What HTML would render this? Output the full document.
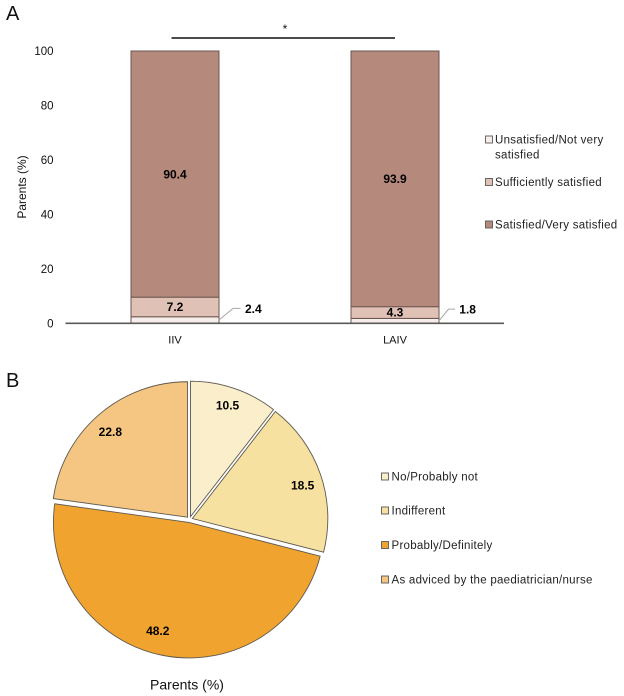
<!DOCTYPE html>
<html lang="en">
<head>
<meta charset="utf-8">
<title>Parents satisfaction charts</title>
<style>
html,body{margin:0;padding:0;background:#fff;}
body{width:624px;height:696px;overflow:hidden;}
svg{display:block;font-family:"Liberation Sans",sans-serif;}
</style>
</head>
<body>
<svg id="fig" xmlns="http://www.w3.org/2000/svg" width="624" height="696" viewBox="0 0 624 696">
  <rect x="0" y="0" width="624" height="696" fill="#fff"/>
  <text x="6" y="20" font-size="20" fill="#111">A</text>
  <text x="6" y="387" font-size="20" fill="#111">B</text>
  <text transform="translate(26,187) rotate(-90)" text-anchor="middle" font-size="12" fill="#111">Parents (%)</text>
  <line x1="171.500" y1="38" x2="395" y2="38" stroke="#111" stroke-width="1.6"/>
  <text x="285" y="33" text-anchor="middle" font-size="12" fill="#111">*</text>
  <text x="187" y="689.500" text-anchor="middle" font-size="14" fill="#111">Parents (%)</text>
  <g id="bars"></g>
  <g id="pie"></g>
  <g id="legendA"></g>
  <g id="legendB"></g>
</svg>
<script>
// Panel A data
const barCategories = ['IIV', 'LAIV'];
const unsatisfiedValues = [2.4, 1.8];
const sufficientValues = [7.2, 4.3];
const satisfiedValues = [90.4, 93.9];
const yTicks = [0, 20, 40, 60, 80, 100];
// Panel B data
const pieCategories = ['No/Probably not', 'Indifferent', 'Probably/Definitely', 'As adviced by the paediatrician/nurse'];
const pieValues = [10.5, 18.5, 48.2, 22.8];

const NS = 'http://www.w3.org/2000/svg';
function make(tag, attrs, parent, txt) {
  const el = document.createElementNS(NS, tag);
  for (const k in attrs) el.setAttribute(k, attrs[k]);
  if (txt !== undefined) el.textContent = txt;
  parent.appendChild(el);
  return el;
}

// Axis functions
const yScale = v => 323.3 - v * 2.723;
const barCenter = i => 175 + i * 220;
const barWidth = 88;

const barsG = document.getElementById('bars');
const barFills = ['#f7eeec', '#e0c1b5', '#b5897b'];
const barSeries = [unsatisfiedValues, sufficientValues, satisfiedValues];

yTicks.forEach(t => {
  const lab = make('text', {x: 53.500, y: yScale(t) + 4, 'text-anchor': 'end', 'font-size': 11.500, fill: '#111'}, barsG, String(t));
  
  
});

barCategories.forEach((cat, i) => {
  const cx = barCenter(i);
  const left = cx - barWidth / 2;
  let base = 0;
  barSeries.forEach((series, s) => {
    const v = series[i];
    const top = base + v;
    const rect = make('rect', {
      x: left, y: yScale(top), width: barWidth, height: yScale(base) - yScale(top),
      fill: barFills[s], stroke: '#6b5650', 'stroke-width': 1
    }, barsG);
    
    
    if (s > 0) {
      const lab = make('text', {
        x: cx, y: yScale(base + v / 2) + 4.200, 'text-anchor': 'middle',
        'font-size': 12, 'font-weight': 'bold', fill: '#000'
      }, barsG, v.toFixed(1));
      
      
    } else {
      const right = cx + barWidth / 2;
      const yv = yScale(v / 2);
      const elbowDx = i === 0 ? 14 : 9.500;
      const endDx = i === 0 ? 21.500 : 16;
      const textDx = i === 0 ? 26 : 20.300;
      const elbowY = yv - 11.700;
      const leader = make('polyline', {
        points: `${right},${yv} ${right + elbowDx},${elbowY} ${right + endDx},${elbowY}`,
        fill: 'none', stroke: '#a6a6a6', 'stroke-width': 1
      }, barsG);
      
      
      const lab = make('text', {
        x: right + textDx, y: elbowY + 4.500, 'font-size': 12, 'font-weight': 'bold', fill: '#000'
      }, barsG, v.toFixed(1));
      
      
    }
    base = top;
  });
  const catLab = make('text', {x: cx, y: 343.300, 'text-anchor': 'middle', 'font-size': 11, fill: '#111'}, barsG, cat);
  
  
});

const axisLine = make('line', {x1: 65.500, y1: yScale(0), x2: 504, y2: yScale(0), stroke: '#595959', 'stroke-width': 1.700}, barsG);



// Pie
const pieG = document.getElementById('pie');
const pieFills = ['#fbeecb', '#f7e1a1', '#f0a32e', '#f5c681'];
const pcx = 189.500, pcy = 519.500, pr = 135.500, explode = 3;
const total = pieValues.reduce((a, b) => a + b, 0);
const angleOf = v => v / total * Math.PI * 2;
let cum = 0;
pieValues.forEach((v, i) => {
  const a0 = angleOf(cum);
  const a1 = angleOf(cum + v);
  const mid = (a0 + a1) / 2;
  const ox = pcx + explode * Math.sin(mid);
  const oy = pcy - explode * Math.cos(mid);
  const x0 = ox + pr * Math.sin(a0), y0 = oy - pr * Math.cos(a0);
  const x1 = ox + pr * Math.sin(a1), y1 = oy - pr * Math.cos(a1);
  const large = (a1 - a0) > Math.PI ? 1 : 0;
  const slice = make('path', {
    d: `M${ox.toFixed(2)},${oy.toFixed(2)} L${x0.toFixed(2)},${y0.toFixed(2)} A${pr},${pr} 0 ${large} 1 ${x1.toFixed(2)},${y1.toFixed(2)} Z`,
    fill: pieFills[i], stroke: '#5f5a50', 'stroke-width': 0.900
  }, pieG);
  
  
  cum += v;
});
cum = 0;
pieValues.forEach((v, i) => {
  const mid = angleOf(cum + v / 2);
  const lr = 117.500;
  const nudgeX = i === 1 ? 2 : i === 2 ? -9 : i === 3 ? -2 : 0;
  const nudgeY = i === 0 ? -3 : i === 1 ? 4 : i === 2 ? -4 : i === 3 ? 1 : 0;
  const lab = make('text', {
    x: pcx + lr * Math.sin(mid) + nudgeX, y: pcy - lr * Math.cos(mid) + 4 + nudgeY, 'text-anchor': 'middle',
    'font-size': 12, 'font-weight': 'bold', fill: '#000'
  }, pieG, v.toFixed(1));
  
  
  cum += v;
});

// Legends
const legendA = document.getElementById('legendA');
const legendAEntries = [
  {lines: ['Unsatisfied/Not very', 'satisfied'], y: 139.500},
  {lines: ['Sufficiently satisfied'], y: 182},
  {lines: ['Satisfied/Very satisfied'], y: 224.500}
];
legendAEntries.forEach((e, i) => {
  const sw = make('rect', {x: 485.500, y: e.y - 3.500, width: 7, height: 7, fill: barFills[i], stroke: '#595959', 'stroke-width': 0.900}, legendA);
  
  
  e.lines.forEach((ln, j) => {
    const t = make('text', {x: 495, y: e.y + 4 + j * 15, 'font-size': 11.500, 'letter-spacing': 0.280, fill: '#222'}, legendA, ln);
    
    
  });
});

const legendB = document.getElementById('legendB');
const legendBY = [476.500, 510.500, 545, 579.500];
pieCategories.forEach((c, i) => {
  const sw = make('rect', {x: 381.500, y: legendBY[i] - 3.500, width: 7, height: 7, fill: pieFills[i], stroke: '#595959', 'stroke-width': 0.900}, legendB);
  
  
  const t = make('text', {x: 391.500, y: legendBY[i] + 4, 'font-size': 11.500, 'letter-spacing': 0.270, fill: '#222'}, legendB, c);
  
  
});
</script>
</body>
</html>
